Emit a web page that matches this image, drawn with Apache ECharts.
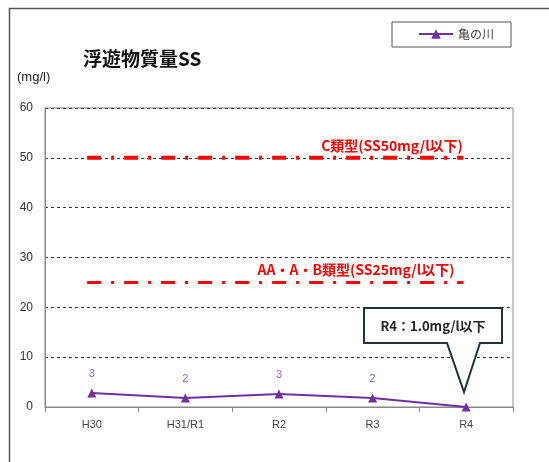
<!DOCTYPE html>
<html><head><meta charset="utf-8">
<script src="https://cdn.jsdelivr.net/npm/echarts@6/dist/echarts.min.js"></script>
<style>html,body{margin:0;padding:0;background:#fff}#c{width:549px;height:462px}</style>
</head><body><div id="c"></div>
<script>
const categories = ['H30', 'H31/R1', 'R2', 'R3', 'R4'];
const seriesName = '亀の川';
const ssValues = [2.8, 1.8, 2.6, 1.8, 0];
const ssLabels = ['3', '2', '3', '2', ''];
const yTicks = [0, 10, 20, 30, 40, 50, 60];
const thresholdC = 50;
const thresholdAAB = 25;
const thresholdStart = -0.05;
const thresholdEnd = 3.97;

const FONT = '"Noto Sans CJK JP", "Noto Sans", sans-serif';
const chart = echarts.init(document.getElementById('c'));
chart.setOption({
  backgroundColor: '#fff',
  animation: false,
  title: {
    text: '浮遊物質量SS', left: 78, top: 44,
    textStyle: { fontFamily: FONT, fontSize: 19, fontWeight: 'bold', color: '#111' }
  },
  legend: {
    left: 392, top: 22, data: [seriesName],
    borderColor: '#555', borderWidth: 1,
    padding: [6, 17, 7, 26],
    itemWidth: 34, itemHeight: 12, itemGap: 5,
    textStyle: { fontFamily: FONT, fontSize: 12, color: '#444' }
  },
  grid: { left: 45, right: 36, top: 108, bottom: 55, show: true, borderColor: '#888', borderWidth: 1 },
  xAxis: [{
    type: 'category', data: categories, boundaryGap: true,
    axisLine: { lineStyle: { color: '#888' } },
    axisTick: { show: true, length: 5, lineStyle: { color: '#888' } },
    axisLabel: { color: '#444', fontSize: 11, margin: 12, fontFamily: 'Liberation Sans, sans-serif' }
  }, {
    type: 'value', min: -0.5, max: 4.5, show: false
  }],
  yAxis: {
    type: 'value', min: yTicks[0], max: yTicks[yTicks.length - 1], interval: 10,
    axisLine: { show: true, onZero: false, lineStyle: { color: '#888' } },
    axisTick: { show: false },
    axisLabel: { color: '#333', fontSize: 12, margin: 12, fontFamily: 'Liberation Sans, sans-serif' },
    splitLine: { lineStyle: { color: '#333', type: [3, 3], width: 1 } }
  },
  series: [{
    name: seriesName, type: 'line', data: ssValues,
    symbol: 'triangle', symbolSize: 9,
    itemStyle: { color: '#7030A0' },
    lineStyle: { color: '#7030A0', width: 2 },
    label: {
      show: true, position: 'top', distance: 9,
      color: '#8f63c3', fontSize: 11, fontFamily: 'Liberation Sans, sans-serif',
      formatter: p => ssLabels[p.dataIndex]
    },
    z: 5
  }, {
    name: 'C', type: 'line', xAxisIndex: 1, symbol: 'none', silent: true,
    data: [[thresholdStart, thresholdC], [thresholdEnd, thresholdC]],
    lineStyle: { color: '#ff0000', width: 4, type: [14, 10, 3, 10], cap: 'butt' }
  }, {
    name: 'AAB', type: 'line', xAxisIndex: 1, symbol: 'none', silent: true,
    data: [[thresholdStart, thresholdAAB], [thresholdEnd, thresholdAAB]],
    lineStyle: { color: '#ff0000', width: 3, type: [14, 10, 3, 10], cap: 'butt' }
  }],
  graphic: [
    { type: 'rect', left: 7, top: 6, shape: { width: 580, height: 500 },
      style: { fill: 'none', stroke: '#555', lineWidth: 1.5 }, silent: true, z: -1 },
    { type: 'text', left: 17, top: 71,
      style: { text: '(mg/l)', fontSize: 13, fill: '#222', fontFamily: 'Liberation Sans, sans-serif' } },
    { type: 'text', x: 392, y: 146,
      style: { text: 'C類型(SS50mg/l以下)', fontSize: 14, fontWeight: 'bold', fill: '#ff0000',
        fontFamily: FONT, align: 'center', verticalAlign: 'middle' } },
    { type: 'text', x: 356, y: 270,
      style: { text: 'AA・A・B類型(SS25mg/l以下)', fontSize: 14, fontWeight: 'bold', fill: '#ff0000',
        fontFamily: FONT, align: 'center', verticalAlign: 'middle' } },
    { type: 'polygon', z: 10,
      shape: { points: [[364, 308], [502, 308], [502, 343], [480, 343], [464, 392], [447, 343], [364, 343]] },
      style: { fill: '#fff', stroke: '#1e3535', lineWidth: 2 } },
    { type: 'text', x: 433, y: 326, z: 11,
      style: { text: 'R4：1.0mg/l以下', fontSize: 13, fontWeight: 'bold', fill: '#222',
        fontFamily: FONT, align: 'center', verticalAlign: 'middle' } }
  ]
});
</script></body></html>
